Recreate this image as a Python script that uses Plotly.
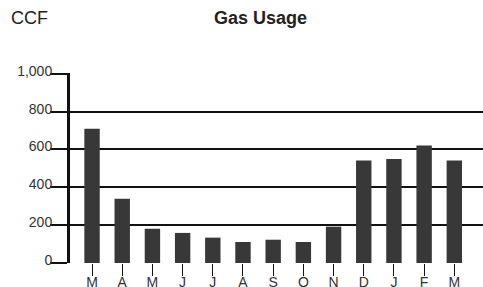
import plotly.graph_objects as go

months = ["M", "A", "M", "J", "J", "A", "S", "O", "N", "D", "J", "F", "M"]
usage = [710, 340, 181, 159, 134, 111, 123, 111, 192, 541, 550, 621, 541]
y_ticks = [0, 200, 400, 600, 800, 1000]
y_labels = ["0", "200", "400", "600", "800", "1,000"]

FONT = "Liberation Sans, Arial, sans-serif"
x_pos = list(range(len(months)))

Y_TOP = 1004  # slight headroom so the 1,000 gridline is drawn
PX_PER_UNIT = 189 / 1000
plot_h = Y_TOP * PX_PER_UNIT
top_margin = 263 - plot_h

fig = go.Figure(go.Bar(
    x=x_pos, y=usage,
    marker=dict(color="#383838", line=dict(width=0)),
    hoverinfo="skip",
))

fig.update_layout(
    width=483, height=287,
    margin=dict(l=70, r=0, t=top_margin, b=24, autoexpand=False),
    paper_bgcolor="white", plot_bgcolor="white",
    bargap=0.49,
    showlegend=False,
    font=dict(family=FONT, size=14, color="#222"),
    annotations=[
        dict(text="<b>Gas Usage</b>", x=(260 - 70) / 413, y=(263 - 18) / plot_h,
             xref="paper", yref="paper", xanchor="center", yanchor="middle",
             showarrow=False, font=dict(family=FONT, size=18, color="#222")),
        dict(text="CCF", x=(9 - 70) / 413, y=(263 - 18) / plot_h,
             xref="paper", yref="paper", xanchor="left", yanchor="middle",
             showarrow=False, font=dict(family=FONT, size=18, color="#222")),
    ],
)

fig.update_xaxes(
    range=[-0.73, 12.95],
    tickvals=x_pos, ticktext=months,
    ticks="outside", ticklen=12, tickwidth=1, tickcolor="#111",
    showgrid=False, zeroline=False, showline=False,
    tickfont=dict(family=FONT, size=14, color="#333"),
    ticklabelstandoff=-6,
)

fig.update_yaxes(
    range=[0, Y_TOP],
    tickvals=y_ticks, ticktext=y_labels,
    ticks="outside", ticklen=17, tickwidth=2, tickcolor="#111",
    showgrid=True, gridcolor="#111", gridwidth=2,
    zeroline=False,
    showline=True, linecolor="#111", linewidth=3,
    tickfont=dict(family=FONT, size=14, color="#333"),
    ticklabelstandoff=-5,
    ticklabelshift=-3,
)

fig.write_html(
    "out.html",
    config={"displayModeBar": False, "staticPlot": True},
    post_script="document.body.style.margin='0';document.body.style.overflow='hidden';",
)
